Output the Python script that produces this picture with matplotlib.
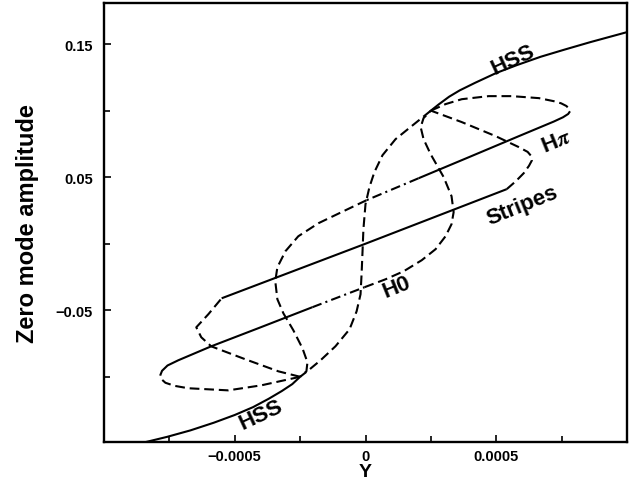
import matplotlib
matplotlib.use("Agg")
import matplotlib.pyplot as plt

plt.rcParams['font.family'] = ['Liberation Sans', 'DejaVu Sans']
plt.rcParams['font.weight'] = 'bold'
plt.rcParams['mathtext.fontset'] = 'stix'
plt.rcParams['lines.scale_dashes'] = False

# --- branches of the bifurcation diagram (Y, zero mode amplitude) ---
hss_lower_x = [-0.00085, -0.00076, -0.00067, -0.00058, -0.0005, -0.00043, -0.00037, -0.00032, -0.00028, -0.00025]
hss_lower_y = [-0.1495, -0.1452, -0.1403, -0.1345, -0.1287, -0.1228, -0.1165, -0.1107, -0.1055, -0.100]

hss_upper_x = [0.00025, 0.00028, 0.00032, 0.00036, 0.00042, 0.0005, 0.00058, 0.00067, 0.00076, 0.00086, 0.00100]
hss_upper_y = [0.100, 0.1047, 0.1105, 0.1152, 0.121, 0.1283, 0.1343, 0.1405, 0.1458, 0.1515, 0.159]

stripes_x = [-0.00055, 0.0, 0.00054]
stripes_y = [-0.041, 0.0, 0.041]

mixed_upper_x = [0.00054, 0.000575, 0.000605, 0.000625, 0.000636, 0.000634, 0.00062, 0.000586, 0.000498, 0.000368, 0.00025]
mixed_upper_y = [0.041, 0.047, 0.053, 0.0585, 0.0625, 0.0658, 0.069, 0.0726, 0.0808, 0.0914, 0.100]

mixed_lower_x = [-0.00025, -0.000333, -0.00046, -0.00059, -0.000628, -0.000647, -0.000601, -0.00055]
mixed_lower_y = [-0.100, -0.0959, -0.0868, -0.0771, -0.0703, -0.0628, -0.053, -0.041]

h0_arc_x = [-0.00025, -0.000398, -0.000525, -0.000678, -0.00073, -0.000765, -0.000782, -0.000785]
h0_arc_y = [-0.100, -0.1064, -0.1102, -0.1086, -0.1068, -0.1045, -0.1015, -0.0990]
h0_stable_x = [-0.000785, -0.000778, -0.000757, -0.000716, -0.00059, -0.00041, -0.000203]
h0_stable_y = [-0.0990, -0.0955, -0.0915, -0.0876, -0.0771, -0.0635, -0.0477]
h0_mid_x = [-0.000203, -0.000004]
h0_mid_y = [-0.0477, -0.0327]
h0_unstable_x = [-0.000004, 0.000077, 0.000146, 0.000215, 0.000268, 0.000306, 0.000329, 0.000337,
                 0.000329, 0.000299, 0.000249, 0.000222, 0.000211, 0.000222, 0.00025]
h0_unstable_y = [-0.0327, -0.0267, -0.0207, -0.0124, -0.0041, 0.0056, 0.0147, 0.0237,
                 0.0357, 0.050, 0.0673, 0.0786, 0.0876, 0.0944, 0.100]

hpi_arc_x = [0.00025, 0.000306, 0.000368, 0.000471, 0.000559, 0.000663, 0.00072, 0.000748, 0.000768, 0.00078, 0.000782]
hpi_arc_y = [0.100, 0.1049, 0.1086, 0.1109, 0.1109, 0.1094, 0.1071, 0.1055, 0.1035, 0.1012, 0.0995]
hpi_stable_x = [0.000782, 0.000775, 0.000755, 0.00072, 0.000586, 0.000395, 0.000203]
hpi_stable_y = [0.0995, 0.0975, 0.0950, 0.0918, 0.0808, 0.065, 0.0492]
hpi_mid_x = [0.000203, 0.000004]
hpi_mid_y = [0.0492, 0.0327]
hpi_unstable_x = [0.000004, -0.000092, -0.00018, -0.000257, -0.000306, -0.000337, -0.000345,
                  -0.000337, -0.000314, -0.000276, -0.000241, -0.000222, -0.000226, -0.00025]
hpi_unstable_y = [0.0327, 0.0237, 0.0154, 0.0056, -0.0056, -0.0177, -0.0282,
                  -0.0417, -0.0523, -0.065, -0.0786, -0.0891, -0.0959, -0.100]

link_x = [0.00025, 0.000176, 0.000115, 0.000065, 0.000034, 0.000015, 0.0, -0.000008, -0.000011,
          -0.000015, -0.000019, -0.000034, -0.000061, -0.000115, -0.000172, -0.000218, -0.00025]
link_y = [0.100, 0.0883, 0.0786, 0.0665, 0.0538, 0.0425, 0.0297, 0.0109, -0.0041,
          -0.0229, -0.038, -0.0508, -0.0643, -0.0771, -0.0876, -0.0951, -0.100]

x_major = [-0.0005, 0.0, 0.0005]
x_major_labels = ['\u22120.0005', '0', '0.0005']
x_minor = [-0.00075, -0.00025, 0.00025, 0.00075]
y_major = [-0.05, 0.05, 0.15]
y_major_labels = ['\u22120.05', '0.05', '0.15']
y_minor = [-0.1, 0.0, 0.1]

fig = plt.figure(figsize=(6.34, 4.81), dpi=100)
ax = fig.add_axes([0.164, 0.079, 0.825, 0.913])

LW = 1.5
SOLID = dict(color='black', lw=LW, solid_capstyle='butt', solid_joinstyle='round')
DASH = dict(color='black', lw=LW, dashes=(7, 3.5), dash_capstyle='butt', dash_joinstyle='round')
DASHDOT = dict(color='black', lw=LW, dashes=(7, 3, 1.5, 3), dash_capstyle='butt')

ax.plot(hss_lower_x, hss_lower_y, **SOLID)
ax.plot(hss_upper_x, hss_upper_y, **SOLID)
ax.plot(stripes_x, stripes_y, **SOLID)
ax.plot(mixed_upper_x, mixed_upper_y, **DASH)
ax.plot(mixed_lower_x, mixed_lower_y, **DASH)
ax.plot(h0_arc_x, h0_arc_y, **DASH)
ax.plot(h0_stable_x, h0_stable_y, **SOLID)
ax.plot(h0_mid_x, h0_mid_y, **DASHDOT)
ax.plot(h0_unstable_x, h0_unstable_y, **DASH)
ax.plot(hpi_arc_x, hpi_arc_y, **DASH)
ax.plot(hpi_stable_x, hpi_stable_y, **SOLID)
ax.plot(hpi_mid_x, hpi_mid_y, **DASHDOT)
ax.plot(hpi_unstable_x, hpi_unstable_y, **DASH)
ax.plot(link_x, link_y, **DASH)

ax.set_xlim(-0.001, 0.001)
ax.set_ylim(-0.149, 0.181)

ax.set_xticks(x_major)
ax.set_xticklabels(x_major_labels)
ax.set_xticks(x_minor, minor=True)
ax.set_yticks(y_major)
ax.set_yticklabels(y_major_labels)
ax.set_yticks(y_minor, minor=True)
ax.tick_params(which='both', direction='in', width=1.2, top=False, right=False)
ax.tick_params(which='major', length=5)
ax.tick_params(which='minor', length=4)
ax.tick_params(axis='x', which='major', pad=5, labelsize=10.5)
ax.tick_params(axis='y', which='major', pad=8, labelsize=10.5)
for lab in ax.get_xticklabels() + ax.get_yticklabels():
    lab.set_fontweight('bold')
for sp in ax.spines.values():
    sp.set_linewidth(1.7)

ax.set_xlabel('Y', fontsize=14, fontweight='bold', labelpad=0)
ax.set_ylabel('Zero mode amplitude', fontsize=17, fontweight='bold', labelpad=12)

TXT = dict(fontsize=16, fontweight='bold', ha='center', va='center', rotation_mode='anchor')
ax.text(0.000562, 0.1387, 'HSS', rotation=25, **TXT)
ax.text(0.000730, 0.0771, r'H$\pi$', rotation=22, **TXT)
ax.text(0.000598, 0.0290, 'Stripes', rotation=22, **TXT)
ax.text(0.000119, -0.0320, 'H0', rotation=22, **TXT)
ax.text(-0.000398, -0.1280, 'HSS', rotation=25, **TXT)

fig.savefig('out.png', dpi=100)
